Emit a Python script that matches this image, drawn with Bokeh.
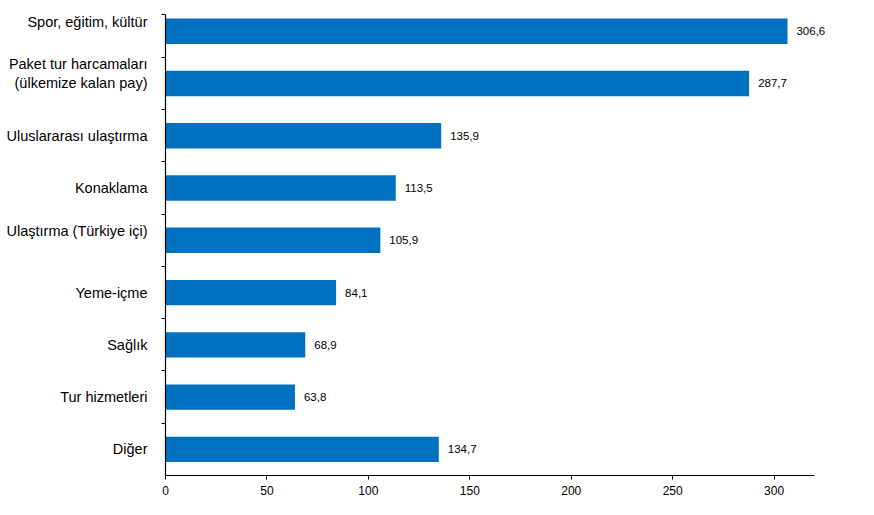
from bokeh.plotting import figure
from bokeh.models import Range1d, FixedTicker, ColumnDataSource, LabelSet
from bokeh.embed import file_html
from bokeh.resources import INLINE
from bokeh.core.properties import value

# Trailing line breaks reproduce the original labels' raised placement
categories = [
    "Spor, eğitim, kültür\n",
    "Paket tur harcamaları\n(ülkemize kalan pay)\n",
    "Uluslararası ulaştırma",
    "Konaklama",
    "Ulaştırma (Türkiye içi)\n",
    "Yeme-içme",
    "Sağlık",
    "Tur hizmetleri",
    "Diğer",
]
values = [306.6, 287.7, 135.9, 113.5, 105.9, 84.1, 68.9, 63.8, 134.7]
x_ticks = [0, 50, 100, 150, 200, 250, 300]
x_axis_end = 320

FONT = "Liberation Sans"
n = len(categories)
idx = list(range(n))
labels = [f"{v:.1f}".replace(".", ",") for v in values]
src = ColumnDataSource(dict(y=idx, v=values, lab=labels))

y_top = -0.32
y_bottom = n - 0.5

p = figure(width=858, height=499, output_backend="svg", toolbar_location=None,
           x_range=Range1d(0, 335.2), y_range=Range1d(y_bottom, y_top),
           min_border_left=165, min_border_right=13, min_border_top=14, min_border_bottom=24)
p.outline_line_color = None
p.xgrid.visible = False
p.ygrid.visible = False
p.background_fill_color = "white"

p.hbar(y="y", right="v", left=0, height=0.485, source=src,
       fill_color="#0070C0", line_color=None)
p.add_layout(LabelSet(x="v", y="y", text="lab", source=src, x_offset=9,
                      text_baseline="middle", text_align="left",
                      text_font=value(FONT), text_font_size=value("11.5px"),
                      text_color="black"))

# x axis
xa = p.xaxis[0]
xa.ticker = FixedTicker(ticks=x_ticks)
xa.bounds = (0, x_axis_end)
xa.axis_line_color = "black"
xa.axis_line_width = 1.2
xa.major_tick_in = 0
xa.major_tick_out = 4
xa.minor_tick_line_color = None
xa.major_label_text_font = FONT
xa.major_label_text_font_size = "12px"
xa.major_label_text_color = "black"
xa.major_label_standoff = 6

# y axis
ya = p.yaxis[0]
boundaries = [i + 0.5 for i in range(n - 1)] + [y_top]
ya.ticker = FixedTicker(ticks=idx, minor_ticks=boundaries)
ya.major_label_overrides = {i: c for i, c in enumerate(categories)}
ya.axis_line_color = "black"
ya.axis_line_width = 1.2
ya.major_tick_line_color = None
ya.major_tick_in = 0
ya.major_tick_out = 0
ya.minor_tick_in = 0
ya.minor_tick_out = 4
ya.minor_tick_line_color = "black"
ya.major_label_text_font = FONT
ya.major_label_text_font_size = "14.5px"
ya.major_label_text_color = "black"
ya.major_label_standoff = 14

open("out.html", "w").write(file_html(p, INLINE))
